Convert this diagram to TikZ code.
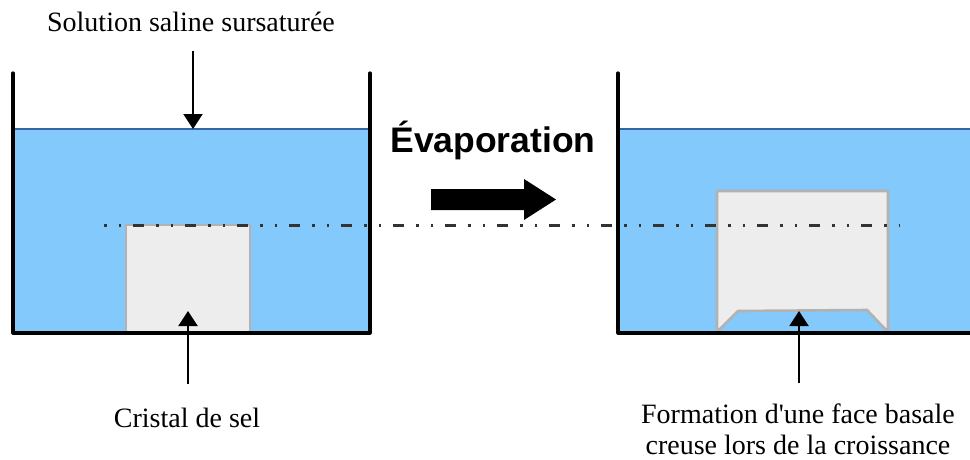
\documentclass[tikz,border=0pt]{standalone}
\usepackage{fontspec}
\setmainfont{Liberation Serif}
\newfontfamily\titrefont{Liberation Sans}
\usetikzlibrary{arrows.meta}
\definecolor{eau}{RGB}{131,201,252}
\definecolor{surfeau}{RGB}{52,101,164}
\definecolor{cristal}{RGB}{237,237,237}
\definecolor{bordcristal}{RGB}{178,178,178}

\begin{document}
\begin{tikzpicture}[x=1pt, y=-1pt, font=\fontsize{28}{31}\selectfont,
		fleche/.style={-{Triangle[length=15pt, width=19pt]}, line width=2pt},
		legende/.style={inner sep=2pt, align=center},
		paroi/.style={line width=3.2pt, line cap=round, line join=round}]
		\useasboundingbox (0,0) rectangle (970,459);
		% solution in both beakers
		\fill[eau] (13,129) rectangle (370,333);
		\fill[eau] (618,129) rectangle (970,333);
		\draw[surfeau, line width=2.6pt] (13,129) -- (370,129);
		\draw[surfeau, line width=2.6pt] (618,129) -- (970,129);
		% crystals (before / after growth)
		\draw[bordcristal, fill=cristal, line width=2.6pt] (126,333) rectangle (250,225);
		\draw[bordcristal, fill=cristal, line width=2.6pt, line join=round]
			(717,332) -- (717,191) -- (888,191) -- (888,332) -- (867,310) -- (738,311) -- cycle;
		% initial level of the crystal top
		\draw[black!80, line width=3pt, dash pattern=on 2.5pt off 12pt on 2.5pt off 12pt on 11pt off 12pt]
			(104,225) -- (900,225);
		% beakers
		\draw[paroi] (13,73) -- (13,333) -- (370,333) -- (370,73);
		\draw[paroi] (618,73) -- (618,333) -- (970,333);
		% evaporation step
		\node[font=\titrefont\bfseries\fontsize{35.5}{42}\selectfont] (evap) at (493,140) {Évaporation};
		\fill (431,189) -- (524,189) -- (524,179) -- (556,199.5) -- (524,220) -- (524,210) -- (431,210) -- cycle;
		% labels
		\node[legende] (solution) at (191,22) {Solution saline sursaturée};
		\coordinate (niveau) at (193,129);
		\draw[fleche] ([yshift=-17pt]solution.south -| niveau) -- (niveau);
		\node[legende] (sel) at (187,418) {Cristal de sel};
		\coordinate (base) at (188,311);
		\draw[fleche] ([yshift=22pt]sel.north -| base) -- (base);
		\node[legende] (creuse) at (798,429) {Formation d\textquotesingle une face basale\\creuse lors de la croissance};
		\coordinate (face) at (799,311);
		\draw[fleche] ([yshift=18pt]creuse.north -| face) -- (face);
	\end{tikzpicture}
\end{document}
